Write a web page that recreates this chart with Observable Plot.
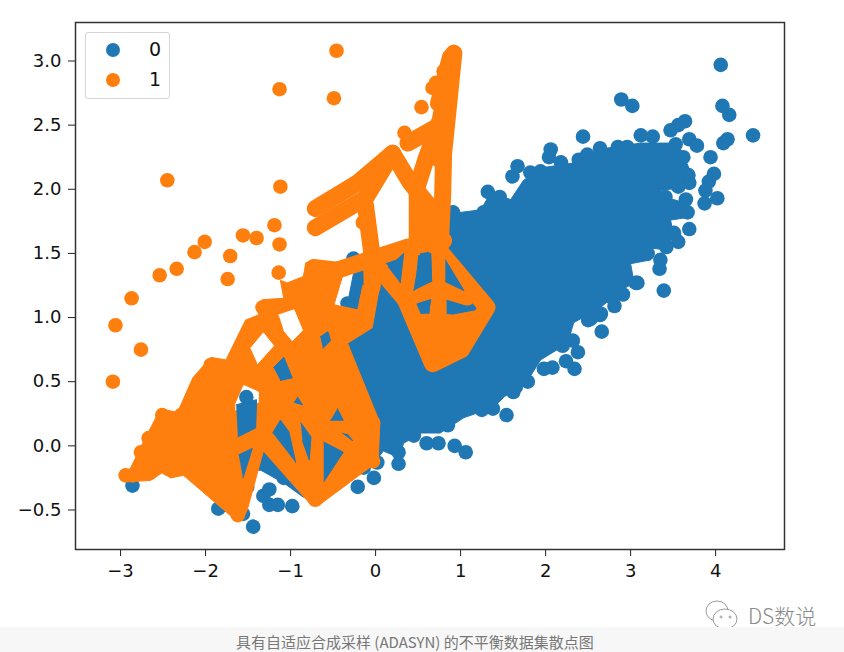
<!DOCTYPE html>
<html><head><meta charset="utf-8">
<script src="https://cdn.jsdelivr.net/npm/d3@7"></script>
<script src="https://cdn.jsdelivr.net/npm/@observablehq/plot@0.6"></script>
<style>
html,body{margin:0;padding:0;background:#fff;width:844px;height:652px;overflow:hidden;position:relative;font-family:"DejaVu Sans",sans-serif}
#chart svg{display:block}
#legend{position:absolute;left:85px;top:32px;width:83px;height:65px;border:1.5px solid #d5d5d5;border-radius:3px;background:#fff;font-size:19px;color:#111}
#legend .dot{position:absolute;left:20px;width:14px;height:14px;border-radius:50%}
#legend .lab{position:absolute;left:63px;line-height:22px}
#caption{position:absolute;left:0;top:627px;width:844px;height:25px;background:#f7f7f7;color:#777;font:15px/29px "Noto Sans CJK SC","Liberation Sans",sans-serif;text-indent:236px;white-space:nowrap;overflow:hidden}
#mark{position:absolute;left:748px;top:601px;font:300 21px/28px "Noto Sans CJK SC",sans-serif;color:#8a8a8a}
#icon{position:absolute;left:703px;top:598px}
</style></head><body>
<div id="chart"></div>
<div id="legend">
 <div class="dot" style="top:10px;background:#1f77b4"></div><div class="lab" style="top:5px">0</div>
 <div class="dot" style="top:40px;background:#ff7f0e"></div><div class="lab" style="top:35px">1</div>
</div>
<svg id="icon" width="40" height="36" fill="#fff" stroke="#9a9a9a" stroke-width="1"><ellipse cx="14" cy="13" rx="11" ry="10"/><ellipse cx="22" cy="21" rx="12" ry="10"/><circle cx="18" cy="19" r="1"/><circle cx="27" cy="19" r="1"/></svg>
<div id="mark">DS数说</div>
<div id="caption">具有自适应合成采样 (ADASYN) 的不平衡数据集散点图</div>
<script>
const xTicks=[-3,-2,-1,0,1,2,3,4];
const yTicks=[-0.5,0,0.5,1,1.5,2,2.5,3];
const blueHull=[[-0.33,1.11],[-0.24,1.41],[0.06,1.50],[0.53,1.60],[0.82,1.72],[0.88,1.81],[1.24,1.84],[1.35,1.97],[1.59,1.92],[1.74,2.07],[1.98,2.17],[2.38,2.21],[2.61,2.31],[3.12,2.36],[3.44,2.36],[3.59,2.31],[3.71,2.13],[3.67,2.02],[3.35,1.99],[3.39,1.94],[3.67,1.89],[3.67,1.78],[3.47,1.76],[3.51,1.63],[3.39,1.53],[3.12,1.55],[3.24,1.45],[3.00,1.42],[3.04,1.27],[2.88,1.21],[2.65,1.08],[2.33,0.96],[2.26,0.80],[1.94,0.67],[1.79,0.51],[1.51,0.38],[1.39,0.30],[1.04,0.22],[0.76,0.10],[0.53,0.10],[0.33,0.02],[0.27,-0.09],[0.09,-0.04],[-0.02,-0.14],[-0.14,-0.19],[-0.85,-0.40],[-1.08,-0.29],[-1.35,-0.19],[-1.53,-0.19],[-1.76,0.04],[-1.59,0.51],[-0.53,0.98]];
const blueDots=[[4.06,2.97],[2.89,2.70],[3.02,2.65],[4.08,2.65],[4.16,2.58],[4.44,2.42],[4.14,2.39],[4.09,2.36],[2.44,2.41],[3.64,2.53],[3.56,2.50],[3.47,2.46],[3.69,2.39],[3.78,2.34],[3.94,2.25],[3.98,2.12],[3.92,2.06],[3.88,1.99],[4.02,1.93],[3.87,1.89],[3.69,1.69],[3.56,1.59],[3.42,1.55],[3.39,1.21],[3.35,1.45],[3.34,1.38],[3.20,1.50],[3.08,1.27],[2.91,1.18],[2.81,1.09],[2.64,1.02],[2.06,2.31],[2.04,2.25],[2.18,2.21],[1.67,2.18],[1.61,2.10],[1.32,1.98],[1.46,1.94],[0.91,1.82],[2.64,2.32],[2.39,2.23],[2.85,2.33],[2.96,2.33],[3.12,2.42],[3.26,2.41],[3.53,2.35],[3.62,2.25],[3.68,2.11],[3.69,2.05],[3.56,2.02],[3.65,1.92],[3.67,1.82],[3.41,1.94],[3.51,1.66],[1.54,0.24],[1.06,-0.05],[0.93,0.00],[0.74,0.02],[0.60,0.02],[0.27,-0.14],[-0.02,-0.25],[1.38,0.29],[1.18,0.32],[1.65,0.46],[1.79,0.50],[2.08,0.61],[2.34,0.60],[2.38,0.73],[2.24,0.66],[2.32,0.82],[2.66,0.89],[2.53,0.99],[2.65,1.03],[3.06,1.27],[0.02,-0.13],[0.27,-0.05],[-2.86,-0.31],[-1.44,-0.63],[-0.98,-0.47],[-1.15,-0.46],[-1.25,-0.46],[-1.32,-0.39],[-1.25,-0.34],[-1.85,-0.49],[-1.56,-0.53],[-1.51,-0.32],[-0.21,-0.32],[-0.15,1.19],[-0.26,1.46],[-0.15,1.35],[0.12,1.50],[-1.08,-0.25],[-0.14,-0.17],[-0.33,1.11],[1.04,1.74],[1.15,1.76],[1.27,1.82],[1.82,2.13],[1.94,2.14],[2.49,2.27],[0.45,0.08],[0.85,0.16],[1.25,0.28],[1.62,0.42],[1.98,0.60],[2.20,0.78],[2.50,0.98],[2.78,1.16],[3.10,1.50],[3.30,1.60],[3.25,2.28],[3.00,2.30],[2.75,2.25],[2.20,2.15]];
const blueInGap=[[-1.52,0.38],[-1.52,0.29]];
const orangeDots=[[-0.46,3.08],[-1.13,2.78],[-0.49,2.71],[-1.12,2.02],[-2.45,2.07],[-2.01,1.59],[-2.13,1.51],[-2.54,1.33],[-2.34,1.38],[-1.56,1.64],[-1.40,1.62],[-1.19,1.72],[-1.13,1.57],[-1.71,1.48],[-1.74,1.30],[-1.14,1.35],[-2.87,1.15],[-3.06,0.94],[-2.76,0.75],[-3.09,0.50],[0.54,2.64],[0.34,2.44],[0.80,2.92],[0.71,2.83],[0.67,2.79],[-1.33,1.08],[-0.15,1.74],[-0.04,2.11],[0.04,2.17],[-2.86,-0.23],[-2.76,-0.05],[-2.67,0.06],[-2.51,0.24],[-2.44,-0.18],[-2.65,-0.21],[-2.29,0.24],[-1.94,0.63],[-2.09,0.47],[-2.94,-0.23],[-0.71,-0.42],[-1.62,-0.54],[-0.03,0.18],[-0.03,-0.12]];
const orangeBody=[[-2.94,-0.25],[-2.74,0.02],[-2.53,0.29],[-2.33,0.26],[-2.15,0.53],[-1.94,0.69],[-1.76,0.67],[-1.53,0.98],[-1.38,1.02],[-1.33,1.14],[-1.08,1.15],[-1.12,1.29],[-1.04,1.27],[-0.85,1.32],[-0.82,1.43],[-0.45,1.43],[-0.39,1.32],[-0.49,1.10],[-0.21,1.06],[-0.15,1.25],[0.06,1.29],[-0.04,0.92],[-0.33,0.80],[0.05,0.18],[0.03,-0.12],[-0.66,-0.46],[-0.76,-0.46],[-1.32,-0.04],[-1.51,-0.50],[-1.56,-0.57],[-1.68,-0.56],[-2.26,-0.23],[-2.41,-0.25],[-2.51,-0.21],[-2.65,-0.27],[-2.92,-0.28]];
const orangeWedge=[[0.49,1.84],[0.67,1.88],[0.79,1.84],[0.76,1.55],[0.49,1.55]];
const orangeSpine=[[0.59,2.23],[0.76,2.54],[0.92,3.06],[0.85,2.60],[0.80,2.28],[0.71,2.17]];
const orangeLower=[[0.47,1.02],[0.65,1.03],[0.91,1.02],[1.24,1.06],[1.01,0.75],[0.67,0.64]];
const orangeBands=[
 [[-0.71,1.85],[-0.21,2.05],[0.20,2.28]],
 [[-0.71,1.70],[-0.12,1.93],[0.20,2.28]],
 [[0.20,2.28],[0.41,2.05],[0.67,1.84]],
 [[0.38,2.36],[0.73,2.49]],
 [[-0.12,1.88],[-0.05,1.53],[-0.04,1.24]],
 [[0.49,1.55],[0.49,2.02],[0.59,2.23],[0.76,2.54],[0.92,3.06]],
 [[0.76,1.55],[0.79,1.97],[0.80,2.28],[0.85,2.60],[0.92,3.06]],
 [[0.74,2.67],[0.88,3.03]],
 [[-0.73,1.39],[-0.45,1.37],[0.38,1.55],[0.80,1.60]],
 [[-0.02,1.43],[0.35,1.14],[0.67,0.64],[1.01,0.75],[1.31,1.08],[0.74,1.53]],
 [[0.41,1.55],[0.35,1.14]],
 [[0.73,1.55],[0.74,0.67]],
 [[0.39,1.16],[0.73,1.23],[1.08,1.16]]
];
const whiteGaps=[
 [[-1.47,0.76],[-1.32,0.88],[-1.20,0.78],[-1.39,0.64]],
 [[-1.14,1.02],[-0.96,1.06],[-0.86,0.90],[-0.98,0.82],[-1.08,0.90]],
 [[-1.65,0.32],[-1.55,0.47],[-1.38,0.42],[-1.38,0.34],[-1.65,0.28]]
];
const blueGaps=[
 [[-1.64,0.32],[-1.40,0.36],[-1.41,0.14],[-1.62,0.07]],
 [[-1.20,0.61],[-1.08,0.69],[-0.98,0.53],[-1.12,0.51]],
 [[-0.65,0.85],[-0.56,0.89],[-0.53,0.82],[-0.62,0.76]],
 [[-1.21,0.10],[-1.12,0.20],[-1.02,0.11],[-0.94,-0.13]],
 [[-0.88,0.18],[-0.76,0.07],[-0.78,-0.11],[-0.86,0.04]],
 [[-0.61,0.03],[-0.38,-0.05],[-0.61,-0.28]],
 [[-1.61,-0.07],[-1.45,-0.02],[-1.56,-0.25]],
 [[-0.45,0.29],[-0.38,0.20],[-0.53,0.20]],
 [[-0.39,0.10],[-0.27,0.04],[-0.33,0.09]],
 [[-0.92,0.38],[-0.86,0.32],[-0.96,0.34]],
 [[0.51,1.11],[0.65,1.14],[0.62,1.03]],
 [[0.88,1.12],[1.08,1.07],[0.91,1.03]],
 [[0.45,1.21],[0.53,1.50],[0.65,1.50],[0.66,1.28]],
 [[0.82,1.45],[1.04,1.21],[0.82,1.28]],
 [[0.15,1.39],[0.33,1.50],[0.29,1.27]]
];
const BLUE="#1f77b4",ORANGE="#ff7f0e";
const X=d=>d[0],Y=d=>d[1];
const poly=(p,c)=>Plot.line(p,{x:X,y:Y,fill:c,stroke:c,strokeWidth:1,strokeLinejoin:"round"});
const fmt=d3.format(".1f");
const plot=Plot.plot({
 width:844,height:627,marginLeft:75,marginRight:60,marginTop:22,marginBottom:78,
 style:{fontFamily:"DejaVu Sans",color:"#111",background:"transparent"},
 x:{domain:[-3.53,4.81]},y:{domain:[-0.808,3.30]},
 marks:[
  poly(blueHull,BLUE),
  Plot.dot(blueDots,{x:X,y:Y,r:7.3,fill:BLUE}),
  poly(orangeBody,ORANGE),poly(orangeWedge,ORANGE),poly(orangeSpine,ORANGE),poly(orangeLower,ORANGE),
  ...orangeBands.map(b=>Plot.line(b,{x:X,y:Y,stroke:ORANGE,strokeWidth:17,strokeLinejoin:"round",strokeLinecap:"round",strokeMiterlimit:4})),
  Plot.dot(orangeDots,{x:X,y:Y,r:7.3,fill:ORANGE}),
  ...whiteGaps.map(p=>poly(p,"#fff")),
  ...blueGaps.map(p=>poly(p,BLUE)),
  Plot.dot(blueInGap,{x:X,y:Y,r:7.3,fill:BLUE}),
  Plot.axisX({ticks:xTicks,tickSize:7,tickPadding:8,label:null,tickFormat:d=>d3.format("d")(d),fontSize:18,stroke:"#222"}),
  Plot.axisY({ticks:yTicks,tickSize:7,tickPadding:7,label:null,tickFormat:d=>fmt(d),fontSize:18,stroke:"#222"}),
  Plot.frame({stroke:"#333",strokeWidth:1.5})
 ]
});
document.getElementById("chart").append(plot);
</script>
</body></html>
